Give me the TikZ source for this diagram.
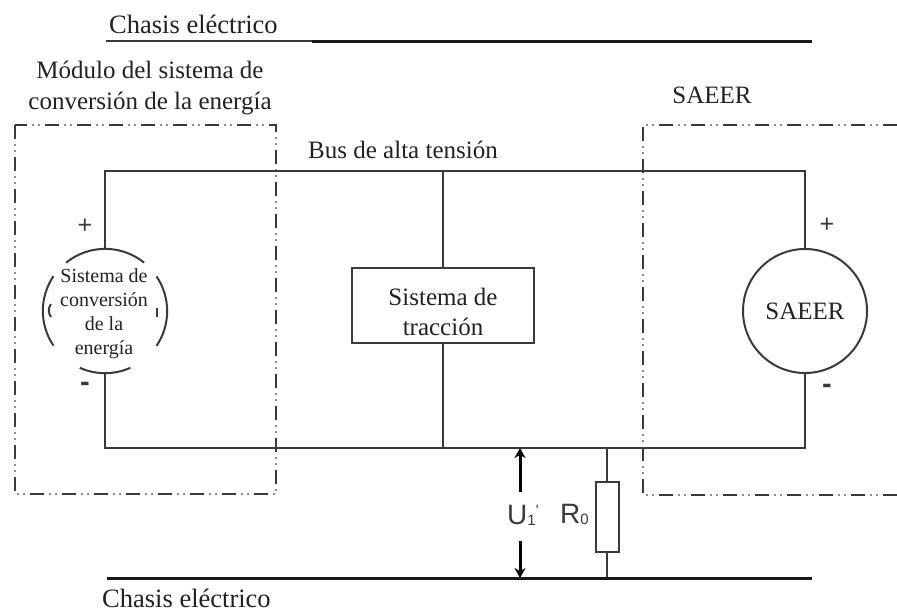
\documentclass[tikz,border=0pt]{standalone}
\usepackage{fontspec}
\setmainfont{Liberation Serif}
\newfontfamily\arialf{Liberation Sans}
\usetikzlibrary{arrows.meta}
\definecolor{wire}{HTML}{3A3A3A}
\definecolor{txt}{HTML}{222222}
\tikzset{
  wireline/.style={draw=wire,line width=2pt},
  heavy/.style={draw=black!90,line width=3pt},
  thinrule/.style={draw=wire,line width=1.4pt},
  dashbox/.style={draw=wire,line width=2.3pt,dash pattern=on 14pt off 18pt},
  dotbox/.style={draw=black!45,line width=1.8pt,dash pattern=on 2pt off 4pt on 2pt off 24pt,dash phase=-19pt},
  lbl/.style={inner sep=0pt,text=txt,font=\fontsize{25}{29}\selectfont,align=center},
  chassis/.style={inner sep=0pt,text=txt,font=\fontsize{26.5}{29}\selectfont},
  smalltxt/.style={inner sep=0pt,text=txt,font=\fontsize{20}{24}\selectfont,align=center},
  signmark/.style={inner sep=0pt,text=wire,font=\arialf\fontsize{25}{27}\selectfont},
  minusmark/.style={inner sep=0pt,text=wire,font=\arialf\bfseries\fontsize{29}{29}\selectfont},
  boxed/.style={draw=wire,line width=2pt,fill=white},
  voltarrow/.style={draw=black,line width=3pt,-{Stealth[length=10pt,width=11pt]}},
  sanslbl/.style={inner sep=0pt,text=wire,font=\arialf\fontsize{28}{30}\selectfont}
}
\begin{document}
\begin{tikzpicture}[x=1pt,y=-1pt]
\useasboundingbox (0,0) rectangle (897,611);
% dash-dot frames
\draw[dashbox] (15,125) rectangle (276,494);
\draw[dotbox] (15,125) rectangle (276,494);
\draw[dashbox] (897,125) -- (643,125) -- (643,495) -- (897,495);
\draw[dotbox] (897,125) -- (643,125) -- (643,495) -- (897,495);
% named points
\node[circle,minimum size=124pt,inner sep=0pt] (conv) at (105,311) {};
\node[circle,draw=wire,line width=2pt,minimum size=124pt,inner sep=0pt,text=txt,font=\fontsize{25}{29}\selectfont] (saeer) at (805,311) {SAEER};
\node[boxed,minimum width=182pt,minimum height=75pt,inner sep=0pt] (trac) at (443,305) {};
\node[inner sep=0pt,align=center,text=txt,font=\fontsize{25}{30}\selectfont] (tractxt) at (443,312) {Sistema de\\tracción};
\node[boxed,minimum width=23pt,minimum height=70pt,inner sep=0pt] (res) at (607,517) {};
\coordinate (tl) at (105,171);
\coordinate (tm) at (443,171);
\coordinate (tr) at (805,171);
\coordinate (bl) at (105,448);
\coordinate (bm) at (443,448);
\coordinate (br) at (805,448);
\coordinate (bres) at (607,448);
\coordinate (gres) at (607,578);
\coordinate (gl) at (107,578);
\coordinate (gr) at (812,578);
\coordinate (c0) at (106,41);
\coordinate (cl) at (312,41);
\coordinate (cr) at (812,41);
\coordinate (aup) at (520,492);
\coordinate (aupt) at (520,448);
\coordinate (adn) at (520,541);
\coordinate (adnt) at (520,578);
% wires
\draw[wireline] (conv.north) -- (tl) -- (tr) -- (saeer.north);
\draw[wireline] (conv.south) -- (bl) -- (br) -- (saeer.south);
\draw[wireline] (tm) -- (trac.north);
\draw[wireline] (trac.south) -- (bm);
\draw[wireline] (bres) -- (res.north);
\draw[wireline] (res.south) -- (gres);
% broken source circle
\draw[wireline] (conv.51) arc[start angle=51,end angle=129,radius=62pt];
\draw[wireline] (conv.146) arc[start angle=146,end angle=214,radius=62pt];
\draw[wireline] (conv.-34) arc[start angle=-34,end angle=34,radius=62pt];
\draw[wireline] (conv.-66) arc[start angle=-66,end angle=-114,radius=62pt];
\coordinate (pl) at (51,304);
\coordinate (plb) at (51,317);
\coordinate (pr) at (157,308);
\coordinate (prb) at (157,317);
\draw[wireline] (pl) to[bend right=35] (plb);
\draw[wireline] (pr) -- (prb);
% chassis lines
\draw[thinrule] (c0) -- (cl);
\draw[heavy] (cl) -- (cr);
\draw[heavy] (gl) -- (gr);
% voltage arrows
\draw[voltarrow] (aup) -- (aupt);
\draw[voltarrow] (adn) -- (adnt);
% text
\node[chassis,anchor=base west] (t1) at (109,33) {Chasis eléctrico};
\node[lbl] (t2) at (150,88.5) {Módulo del sistema de\\[2pt]conversión de la energía};
\node[lbl] (t3) at (712,95) {SAEER};
\node[lbl] (t4) at (403,150) {Bus de alta tensión};
\node[chassis,anchor=base west] (t5) at (102,607) {Chasis eléctrico};
\node[smalltxt] (t6) at (104,314) {Sistema de\\conversión\\de la\\energía};
\node[signmark] (p1) at (85,226) {+};
\node[minusmark] (m1) at (85,387) {-};
\node[signmark] (p2) at (827,225) {+};
\node[minusmark] (m2) at (827,389) {-};
\node[sanslbl,anchor=west] (u) at (507,515) {U\raisebox{-1pt}{\fontsize{15}{15}\selectfont 1}\raisebox{9pt}{\fontsize{15}{15}\selectfont '}};
\node[sanslbl,anchor=west] (r) at (560,514) {R\raisebox{-1pt}{\fontsize{15}{15}\selectfont 0}};
\end{tikzpicture}
\end{document}
